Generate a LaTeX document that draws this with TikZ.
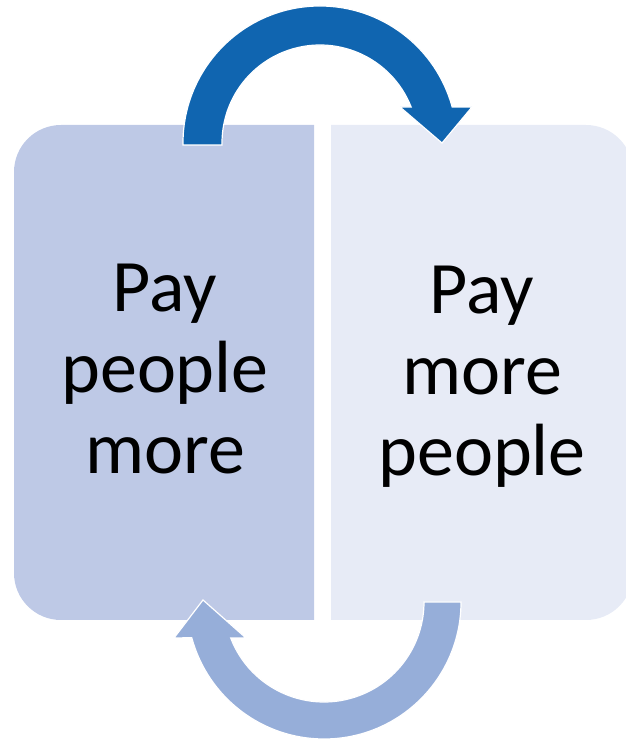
\documentclass[tikz,border=0pt]{standalone}
\usepackage{fontspec}
\setmainfont{Carlito}
\usetikzlibrary{calc,positioning}
\definecolor{leftfill}{RGB}{190,201,230}
\definecolor{rightfill}{RGB}{231,235,246}
\definecolor{darkarrow}{RGB}{16,101,176}
\definecolor{lightarrow}{RGB}{150,174,217}
\begin{document}
\begin{tikzpicture}[x=1pt,y=1pt,
		bigarrow/.style={draw=white,line width=1.2pt}]
		\useasboundingbox (0,0) rectangle (626,739);

		% the two halves
		\fill[leftfill] (314,614) -- (61,614) arc[start angle=90,end angle=180,radius=47]
			-- (14,166) arc[start angle=180,end angle=270,radius=47] -- (314,119) -- cycle;
		\fill[rightfill] (331,614) -- (586,614) arc[start angle=90,end angle=0,radius=47]
			-- (633,166) arc[start angle=0,end angle=-90,radius=47] -- (331,119) -- cycle;

		\begin{scope}[every node/.style={align=center,inner sep=0pt,font=\fontsize{74}{81}\selectfont}]
			\node (a) at (165,369.5) {Pay\\people\\more};
			\node (b) at (482,362) {Pay\\more\\people};
		\end{scope}

		% circular arrows
		\coordinate (c1) at (320,596);
		\coordinate (c2) at (324,137);
		\filldraw[bigarrow,fill=darkarrow] (183,594) -- ($(c1)+(180:137)$)
			arc[start angle=180,end angle=15.2,radius=137] -- (472,632) -- (442,596) -- (400,632)
			-- ($(c1)+(21.6:98)$) arc[start angle=21.6,end angle=180,radius=98] -- (222,594) -- cycle;
		\filldraw[bigarrow,fill=lightarrow] ($(c2)+(0:137)$)
			arc[start angle=0,end angle=-164.9,radius=137] -- (174,101) -- (203,139) -- (246,101)
			-- ($(c2)+(-158.9:100)$) arc[start angle=-158.9,end angle=0,radius=100] -- cycle;
	\end{tikzpicture}
\end{document}
